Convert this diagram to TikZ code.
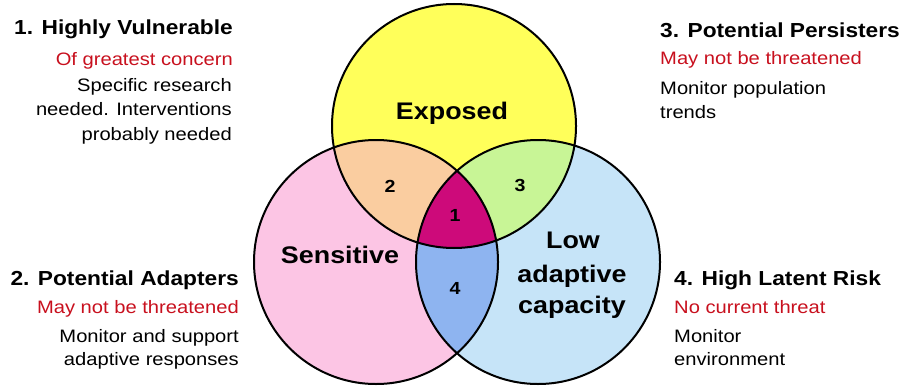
\documentclass[tikz,border=0pt]{standalone}
\usepackage{fontspec}
\setmainfont{Liberation Sans}[FakeStretch=1.12]
\definecolor{yel}{RGB}{255,255,90}
\definecolor{pnk}{RGB}{252,197,228}
\definecolor{blu}{RGB}{198,228,248}
\definecolor{peach}{RGB}{250,205,160}
\definecolor{lgreen}{RGB}{200,245,150}
\definecolor{mag}{RGB}{205,10,122}
\definecolor{mblue}{RGB}{142,180,240}
\definecolor{redtxt}{RGB}{200,16,30}
\begin{document}
\begin{tikzpicture}[x=1pt,y=-1pt,
  hd/.style={font=\fontsize{20.3}{24}\selectfont\bfseries, inner sep=0pt},
  rd/.style={font=\fontsize{18}{22}\selectfont, text=redtxt, inner sep=0pt},
  bd/.style={font=\fontsize{18}{22}\selectfont, inner sep=0pt},
  big/.style={font=\fontsize{24}{28}\selectfont\bfseries, inner sep=0pt},
  num/.style={font=\fontsize{17.5}{20}\selectfont\bfseries, inner sep=0pt},
  ring/.style={draw=black, line width=2pt}]
\useasboundingbox (0,0) rectangle (901,385);
\def\cY{(454,126) circle[radius=122pt]}
\def\cP{(376,262) circle[radius=122pt]}
\def\cB{(538,262) circle[radius=122pt]}
\fill[yel] \cY;
\fill[pnk] \cP;
\fill[blu] \cB;
\begin{scope}\clip \cY; \fill[peach] \cP; \end{scope}
\begin{scope}\clip \cY; \fill[lgreen] \cB; \end{scope}
\begin{scope}\clip \cP; \fill[mblue] \cB; \end{scope}
\begin{scope}\clip \cY; \clip \cP; \fill[mag] \cB; \end{scope}
\draw[ring] \cY;
\draw[ring] \cP;
\draw[ring] \cB;
% circle labels
\node[big, anchor=base] (lexp) at (452,120) {Exposed};
\node[big, anchor=base] (lsen) at (340,263) {Sensitive};
\node[big, anchor=base] (llow) at (573,248) {Low};
\node[big, anchor=base] (lada) at (572,282) {adaptive};
\node[big, anchor=base] (lcap) at (572,313) {capacity};
\node[num, anchor=base] (n2) at (390,192) {2};
\node[num, anchor=base] (n3) at (520,191) {3};
\node[num, anchor=base] (n1) at (455,221) {1};
\node[num, anchor=base] (n4) at (455,294) {4};
% block 1
\node[hd, anchor=base east] (h1) at (233,35) {1. Highly Vulnerable};
\node[rd, anchor=base east] (r1) at (233,66) {Of greatest concern};
\node[bd, anchor=base east] (b1a) at (232,92) {Specific research};
\node[bd, anchor=base east] (b1b) at (232,115) {needed. Interventions};
\node[bd, anchor=base east] (b1c) at (232,140) {probably needed};
% block 3
\node[hd, anchor=base west] (h3) at (660,38) {3. Potential Persisters};
\node[rd, anchor=base west] (r3) at (660,65) {May not be threatened};
\node[bd, anchor=base west] (b3a) at (660,95) {Monitor population};
\node[bd, anchor=base west] (b3b) at (660,118) {trends};
% block 2
\node[hd, anchor=base east] (h2) at (239,285) {2. Potential Adapters};
\node[rd, anchor=base east] (r2) at (239,313) {May not be threatened};
\node[bd, anchor=base east] (b2a) at (239,342) {Monitor and support};
\node[bd, anchor=base east] (b2b) at (239,365) {adaptive responses};
% block 4
\node[hd, anchor=base west] (h4) at (674,285) {4. High Latent Risk};
\node[rd, anchor=base west] (r4) at (674,313) {No current threat};
\node[bd, anchor=base west] (b4a) at (674,342) {Monitor};
\node[bd, anchor=base west] (b4b) at (674,365) {environment};
\end{tikzpicture}
\end{document}
